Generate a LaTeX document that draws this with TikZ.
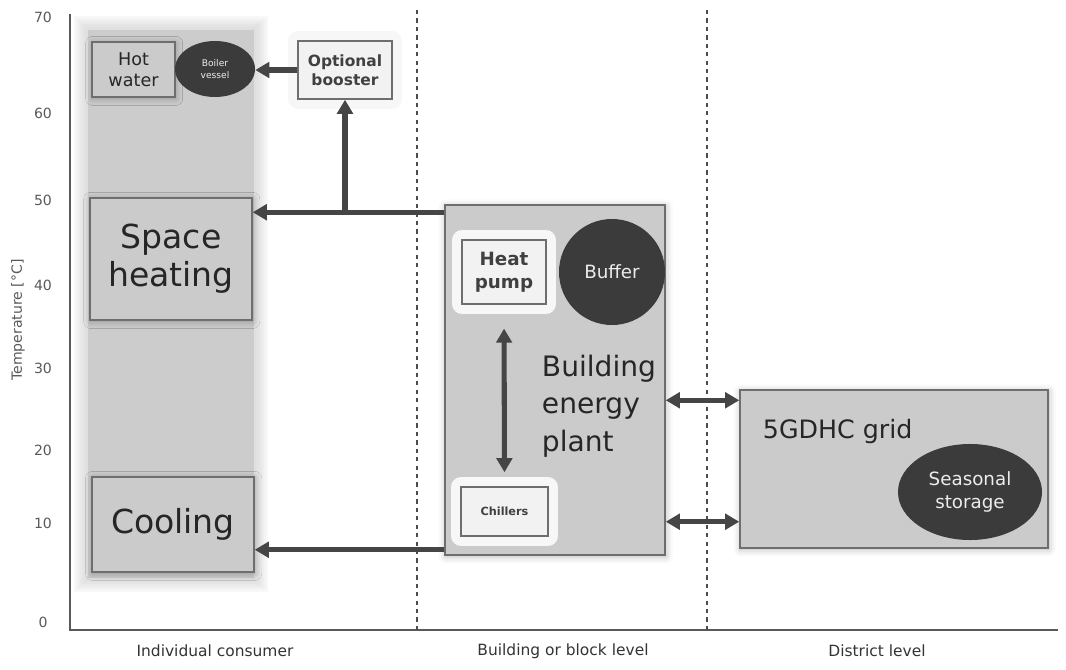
\documentclass[tikz,border=0pt]{standalone}
\usepackage{fontspec}
\setmainfont{DejaVu Sans}
\usepackage{tikz}
\usetikzlibrary{shapes,arrows.meta,calc,shadows.blur}
\definecolor{boxfill}{HTML}{CBCBCB}
\definecolor{boxline}{HTML}{6E6E6E}
\definecolor{darkfill}{HTML}{3B3B3B}
\definecolor{flowcol}{HTML}{454545}
\definecolor{txt}{HTML}{262626}

\begin{document}
\begin{tikzpicture}[x=0.025cm,y=-0.025cm,
    box/.style={draw=boxline,line width=1pt,fill=boxfill,text=txt,align=center,
                blur shadow={shadow xshift=0.5pt,shadow yshift=-1pt,shadow blur radius=5pt,shadow opacity=30}},
    lightbox/.style={draw=boxline,line width=1pt,fill=black!5,text=black!75,align=center,
                font=\bfseries,preaction={draw=white!94!gray,line width=14pt,line join=round}},
    tank/.style={ellipse,fill=darkfill,text=white!85!gray,align=center,inner sep=0pt},
    flow/.style={draw=flowcol,line width=3.6pt,-{Triangle[length=10pt,width=11pt]}},
    both/.style={draw=flowcol,line width=3.6pt,{Triangle[length=10pt,width=11pt]}-{Triangle[length=10pt,width=11pt]}},
    tick/.style={text=black!65,font=\fontsize{10}{12}\selectfont},
    lvl/.style={text=black!80,font=\fontsize{11}{13}\selectfont}]

  \useasboundingbox (0,0) rectangle (1066,670);

  % consumer column
  \foreach \m in {0,2,...,14}
    \fill[black!20,opacity=0.13] (74+\m,16+\m) rectangle (268-\m,592-\m);
  \fill[black!20] (88,30) rectangle (254,578);

  % axes
  \draw[black!65,line width=1.5pt] (70,14) -- (70,630) -- (1058,630);
  \foreach \t/\y in {70/17,60/113,50/200,40/285,30/368,20/450,10/523,0/622}
    \node[tick] at (43,\y) {\t};
  \node[tick,rotate=90] at (18,320) {Temperature [°C]};

  \draw[dashed,black!70,line width=0.9pt] (417,10) -- (417,630);
  \draw[dashed,black!70,line width=0.9pt] (707,10) -- (707,630);

  \node[lvl] at (215,651) {Individual consumer};
  \node[lvl] at (563,651) {Building or block level};
  \node[lvl] at (877,651) {District level};

  % boxes
  \node[box,minimum width=2.075cm,minimum height=1.375cm,
        font=\fontsize{12.5}{15}\selectfont]            (A) at (133.5,69.5) {Hot\\water};
  \node[tank,minimum width=2cm,minimum height=1.4cm,
        font=\fontsize{6.5}{8}\selectfont]              (B) at (215,69) {Boiler\\vessel};
  \node[lightbox,minimum width=2.35cm,minimum height=1.45cm,
        font=\bfseries\fontsize{11}{13.5}\selectfont]   (C) at (345,70) {Optional\\booster};
  \node[box,minimum width=4.05cm,minimum height=3.05cm,
        font=\fontsize{23.5}{27}\selectfont]            (D) at (171,259) {Space\\heating};
  \node[box,minimum width=4.05cm,minimum height=2.375cm,
        font=\fontsize{23.5}{27}\selectfont]            (E) at (173,524.5) {Cooling};
  \node[box,minimum width=5.5cm,minimum height=8.75cm] (F) at (555,380) {};
  \node[lightbox,minimum width=2.1cm,minimum height=1.6cm,
        font=\bfseries\fontsize{13}{16}\selectfont]     (G) at (504,272) {Heat\\pump};
  \node[tank,circle,minimum size=2.65cm,
        font=\fontsize{13}{15}\selectfont]              (H) at (612,272) {Buffer};
  \node[lightbox,minimum width=2.175cm,minimum height=1.225cm,
        font=\bfseries\fontsize{8}{10}\selectfont]      (I) at (504.5,511.5) {Chillers};
  \node[text=txt,align=left,anchor=west,
        font=\fontsize{20}{26.5}\selectfont]            (P) at (537,406) {Building\\energy\\plant};
  \node[box,minimum width=7.7cm,minimum height=3.95cm] (J) at (894,469) {};
  \node[text=txt,anchor=west,
        font=\fontsize{18}{22}\selectfont]              (L) at (758,432) {5GDHC grid};
  \node[tank,minimum width=3.6cm,minimum height=2.4cm,
        font=\fontsize{13}{16}\selectfont]              (K) at (970,492) {Seasonal\\storage};

  % connectors
  \coordinate (S) at ($(F.north west)+(0,8)$);
  \coordinate (R) at ($(F.south west)+(0,-6)$);
  \coordinate (T) at (C.south |- S);
  \coordinate (U) at ($(J.north west)+(0,11)$);
  \coordinate (V) at ($(J.south west)+(0,-27)$);

  \draw[flow] (S) -- (S -| D.east);
  \draw[flow] (T) -- (C.south);
  \draw[flow] (C.west) -- (C.west -| B.east);
  \draw[flow] (R) -- (R -| E.east);
  \draw[both,shorten <=17pt,shorten >=10pt] (G.south) -- (I.north);
  \draw[both] (F.east |- U) -- (U);
  \draw[both] (F.east |- V) -- (V);
\end{tikzpicture}
\end{document}
